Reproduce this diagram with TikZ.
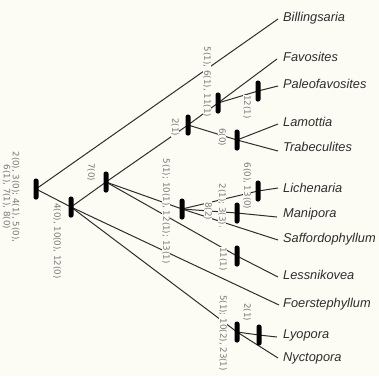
\documentclass[tikz,border=0pt]{standalone}
\usepackage{fontspec}
\setmainfont{Liberation Sans}
\newfontfamily\labfont{DejaVu Sans}
\definecolor{bg}{RGB}{252,252,245}
\definecolor{ln}{RGB}{45,45,45}
\definecolor{tx}{RGB}{45,45,45}
\definecolor{lb}{RGB}{120,120,120}
\begin{document}
\begin{tikzpicture}[x=1pt,y=-1pt,
  bar/.style={fill=black, draw=none, rounded corners=2.2pt, minimum width=5pt, minimum height=21pt, inner sep=0pt},
  conn/.style={draw=ln, line width=1pt},
  taxon/.style={anchor=west, inner sep=0pt, text=tx, font=\fontsize{12.8}{14}\selectfont\itshape},
  lab/.style={rotate=-90, inner sep=0.6pt, fill=bg, text=lb, font=\labfont\fontsize{8.7}{9}\selectfont, align=center}]
\fill[bg] (0,0) rectangle (379,376);
\useasboundingbox (0,0) rectangle (379,376);
% node centres
\coordinate (R) at (36,189);
\coordinate (A) at (71,207);
\coordinate (B) at (106,182);
\coordinate (C) at (188,125);
\coordinate (D) at (218,103);
\coordinate (E) at (258,91);
\coordinate (F) at (237,140);
\coordinate (G) at (182,209);
\coordinate (H) at (237,213);
\coordinate (I) at (258,191);
\coordinate (J) at (237,256);
\coordinate (K) at (237,332);
\coordinate (L) at (259,335);
% line ends
\coordinate (eBil) at (278,19);
\coordinate (eFav) at (277,59);
\coordinate (ePal) at (278,86);
\coordinate (eLam) at (278,124);
\coordinate (eTra) at (278,151);
\coordinate (eLic) at (278,188);
\coordinate (eMan) at (277,217);
\coordinate (eSaf) at (278,240);
\coordinate (eLes) at (278,277);
\coordinate (eFoe) at (279,305);
\coordinate (eLyo) at (277,337);
\coordinate (eNyc) at (278,358);
% taxa
\node[taxon] (tBil) at (283,18) {Billingsaria};
\node[taxon] (tFav) at (283,57) {Favosites};
\node[taxon] (tPal) at (283,84) {Paleofavosites};
\node[taxon] (tLam) at (283,122) {Lamottia};
\node[taxon] (tTra) at (283,147) {Trabeculites};
\node[taxon] (tLic) at (283,188) {Lichenaria};
\node[taxon] (tMan) at (283,214) {Manipora};
\node[taxon] (tSaf) at (283,239) {Saffordophyllum};
\node[taxon] (tLes) at (283,275) {Lessnikovea};
\node[taxon] (tFoe) at (283,304) {Foerstephyllum};
\node[taxon] (tLyo) at (283,335) {Lyopora};
\node[taxon] (tNyc) at (283,358) {Nyctopora};
% connectors
\draw[conn] (R) -- (eBil);
\draw[conn] (R) -- (A);
\draw[conn] (A) -- (B);
\draw[conn] (A) -- (eFoe);
\draw[conn] (A) -- (K);
\draw[conn] (K) -- (eNyc);
\draw[conn] (K) -- (L) -- (eLyo);
\draw[conn] (B) -- (C);
\draw[conn] (B) -- (G);
\draw[conn] (B) -- (J) -- (eLes);
\draw[conn] (C) -- (D);
\draw[conn] (C) -- (F);
\draw[conn] (D) -- (eFav);
\draw[conn] (D) -- (E) -- (ePal);
\draw[conn] (F) -- (eLam);
\draw[conn] (F) -- (eTra);
\draw[conn] (G) -- (I) -- (eLic);
\draw[conn] (G) -- (H) -- (eMan);
\draw[conn] (G) -- (eSaf);
% character labels (drawn with background, interrupting the lines)
\node[lab] (lR) at (11,197) {2(0), 3(0); 4(1), 5(0),\\6(1), 7(1), 8(0)};
\node[lab] (lA) at (57,241) {4(0), 10(0), 12(0)};
\node[lab] (lB) at (91,172) {7(0)};
\node[lab] (lC) at (175,127) {2(1)};
\node[lab] (lD) at (207,82) {5(1), 6(1), 11(1)};
\node[lab] (lE) at (247,107) {12(1)};
\node[lab] (lF) at (222,137) {6(0)};
\node[lab] (lG) at (166,211) {5(1); 10(1), 12(1); 13(1)};
\node[lab] (lG2) at (208,211) {8(2)};
\node[lab] (lH) at (222,206) {2(1); 3(3).};
\node[lab] (lI) at (247,186) {6(0), 13(0)};
\node[lab] (lJ) at (223,259) {11(1)};
\node[lab] (lL) at (247,312) {2(1)};
\node[lab] (lK) at (223,333) {5(1); 10(2), 23(1)};
% bars
\foreach \n in {R,A,B,C,D,E,F,G,H,I,J,K,L} \node[bar] (bar\n) at (\n) {};
\end{tikzpicture}
\end{document}
